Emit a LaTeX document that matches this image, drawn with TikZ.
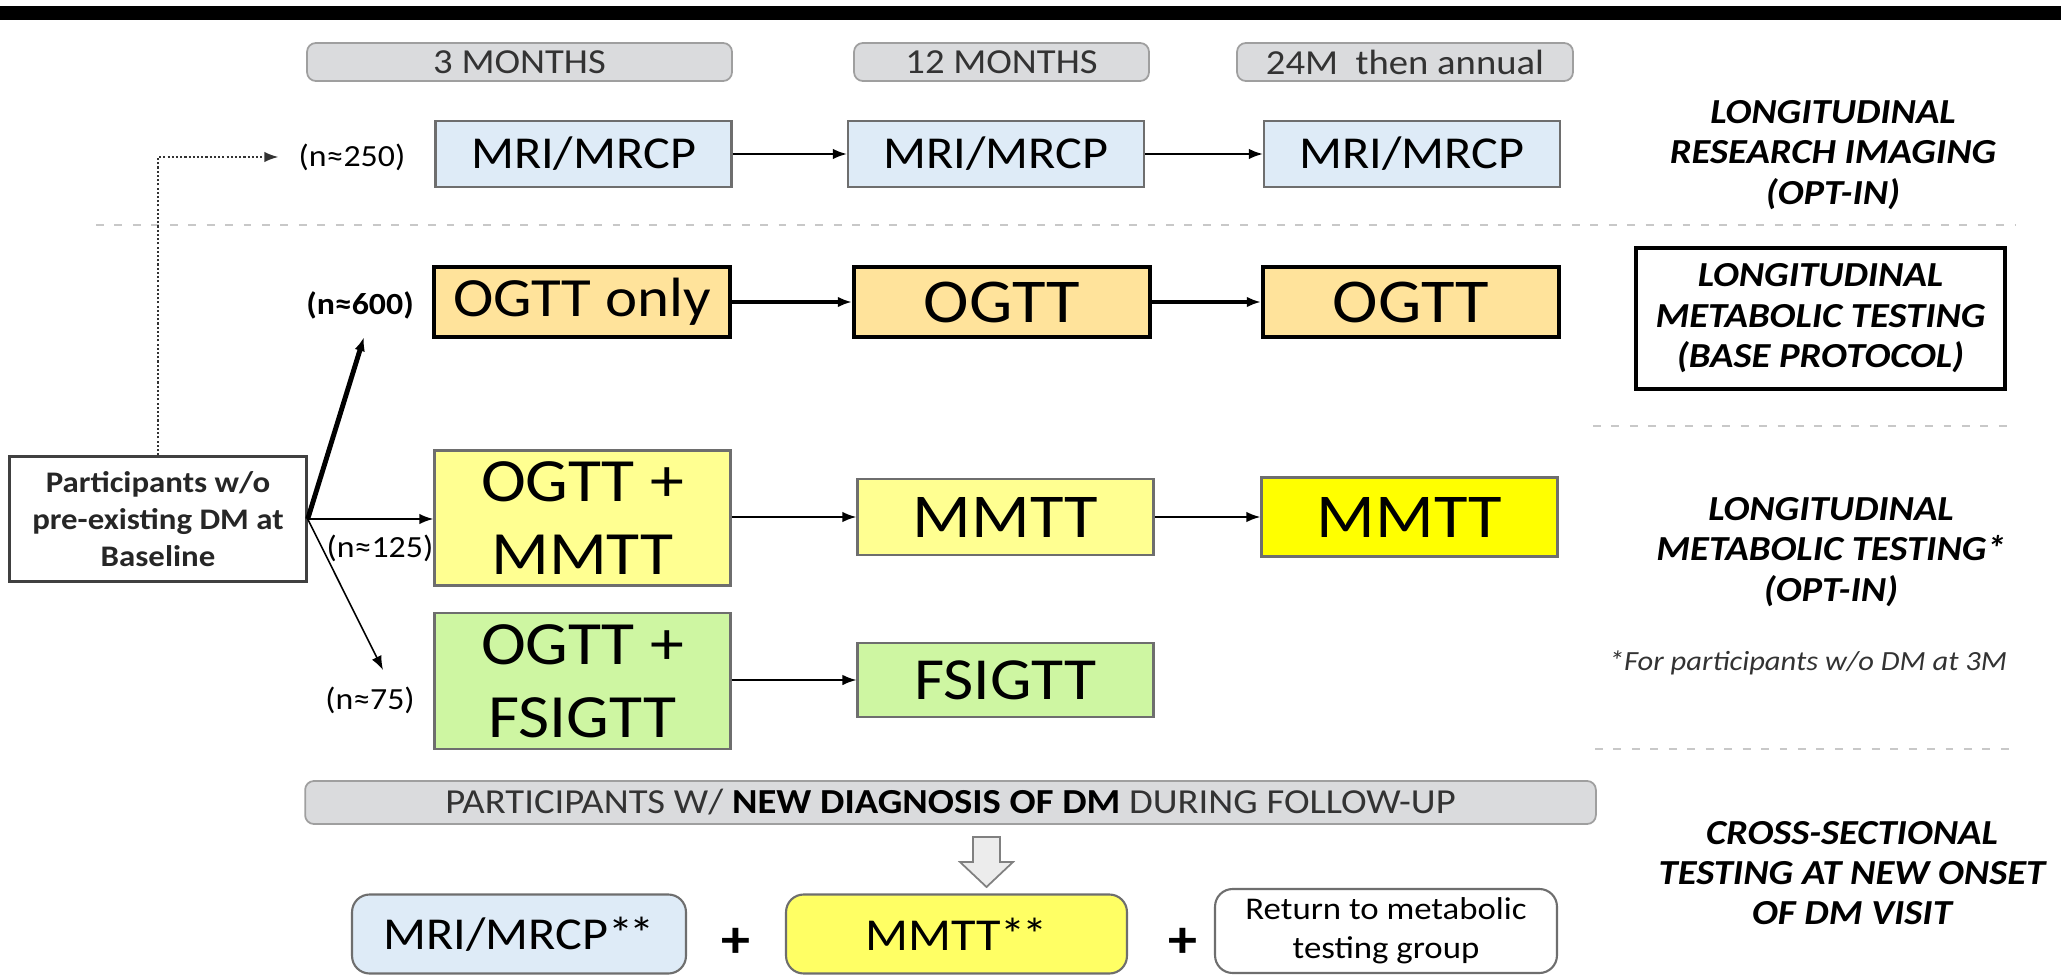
\documentclass[tikz,border=0pt]{standalone}
\usepackage{fontspec}
\setmainfont{Carlito}[FakeStretch=1.1]
\usetikzlibrary{arrows.meta, positioning, calc}
\definecolor{grisclaro}{RGB}{218,219,221}
\definecolor{azulclaro}{RGB}{222,235,247}
\definecolor{naranja}{RGB}{255,227,155}
\definecolor{amarillo}{RGB}{255,255,145}
\definecolor{amarillofuerte}{RGB}{255,255,0}
\definecolor{amarillomedio}{RGB}{255,255,100}
\definecolor{verdeclaro}{RGB}{206,246,162}
\definecolor{bordegris}{RGB}{110,110,110}
\definecolor{lineagris}{RGB}{200,200,200}
\tikzset{>={Latex[length=8pt,width=6pt]}}

\begin{document}
\begin{tikzpicture}[x=0.02cm, y=-0.02cm,
    etapa/.style={draw=gray!75, fill=grisclaro, rounded corners=5pt, line width=1pt, minimum height=0.76cm, inner sep=0pt, text=black!80, font=\fontsize{20}{24}\selectfont},
    caja/.style={inner sep=0pt, minimum width=5.92cm, align=center, font=\fontsize{35}{41.5}\selectfont},
    imagen/.style={caja, draw=bordegris, fill=azulclaro, line width=1.2pt, minimum height=1.32cm, font=\fontsize{26}{30}\selectfont},
    ogtt/.style={caja, draw=black, fill=naranja, line width=2.4pt, minimum height=1.4cm, font=\fontsize{35.5}{40}\selectfont},
    mmtt/.style={caja, draw=bordegris, fill=amarillo, line width=1.2pt},
    fsigtt/.style={caja, draw=bordegris, fill=verdeclaro, line width=1.2pt},
    cuenta/.style={inner sep=0pt, font=\fontsize{17.5}{20}\selectfont},
    grupo/.style={align=center, inner sep=0pt, font=\fontsize{20}{23}\bfseries\itshape\selectfont},
    separador/.style={lineagris, line width=1.4pt, dash pattern=on 4.5pt off 6pt},
    final/.style={rounded corners=10pt, line width=1.2pt, draw=bordegris, minimum height=1.58cm, inner sep=0pt, align=center, font=\fontsize{26}{30}\selectfont}]
    \useasboundingbox (0,0) rectangle (2061,976);
    \fill[black] (0,6) rectangle (2061,20);

    % separators
    \draw[separador] (96,225) -- (2015,225);
    \draw[separador] (1593,426) -- (2015,426);
    \draw[separador] (1595,749) -- (2015,749);

    % time points
    \node[etapa, minimum width=8.5cm] (h3m) at (519.5,62) {3 MONTHS};
    \node[etapa, minimum width=5.9cm] (h12m) at (1001.5,62) {12 MONTHS};
    \node[etapa, minimum width=6.72cm] (h24m) at (1405,62) {24M\ \ then annual};

    % research imaging
    \node[imagen] (mri1) at (583.5,154) {MRI/MRCP};
    \node[imagen] (mri2) at (996,154) {MRI/MRCP};
    \node[imagen] (mri3) at (1412,154) {MRI/MRCP};
    \draw[->, line width=1.2pt] (mri1) -- (mri2);
    \draw[->, line width=1.2pt] (mri2) -- (mri3);

    % base protocol
    \node[ogtt, font=\fontsize{31.5}{36}\selectfont] (ogtt1) at (582,302) {OGTT only};
    \node[ogtt] (ogtt2) at (1002,302) {OGTT};
    \node[ogtt] (ogtt3) at (1411,302) {OGTT};
    \draw[->, line width=2.3pt] (ogtt1) -- (ogtt2);
    \draw[->, line width=2.3pt] (ogtt2) -- (ogtt3);

    % opt-in metabolic testing
    \node[mmtt, minimum height=2.7cm] (mm1) at (582.5,518) {OGTT +\\MMTT};
    \node[mmtt, minimum height=1.52cm, font=\fontsize{35.5}{40}\selectfont] (mm2) at (1005.5,517) {MMTT};
    \node[mmtt, fill=amarillofuerte, minimum height=1.58cm, font=\fontsize{35.5}{40}\selectfont] (mm3) at (1409.5,517) {MMTT};
    \draw[->, line width=1.2pt] (mm1.east |- mm2) -- (mm2);
    \draw[->, line width=1.2pt] (mm2) -- (mm3);

    \node[fsigtt, minimum height=2.72cm] (fs1) at (582.5,681) {OGTT +\\FSIGTT};
    \node[fsigtt, minimum height=1.48cm, font=\fontsize{34}{40}\selectfont] (fs2) at (1005.5,680) {FSIGTT};
    \draw[->, line width=1pt] (fs1.east |- fs2) -- (fs2);

    % baseline
    \node[draw=black!75, line width=1.4pt, minimum width=5.94cm, minimum height=2.5cm, align=center, inner sep=0pt, text=black!85, font=\fontsize{17}{21}\bfseries\selectfont] (part) at (158,519) {Participants w/o\\pre-existing DM at\\Baseline};

    \node[cuenta] (n250) at (352,157) {(n≈250)};
    \node[cuenta, font=\fontsize{17.5}{20}\bfseries\selectfont] (n600) at (360,305) {(n≈600)};
    \node[cuenta] (n125) at (380,548) {(n≈125)};
    \node[cuenta] (n75) at (370,700) {(n≈75)};

    \coordinate (e600) at (364,337);
    \coordinate (e75) at (383,670);
    \draw[->, line width=2.8pt] (part.east) -- (e600);
    \draw[->, line width=1.2pt] (part.east) -- (mm1.west |- part.east);
    \draw[->, line width=0.9pt] (part.east) -- (e75);
    \draw[->, gray!40!black, line width=1pt, dash pattern=on 1.2pt off 1.2pt] (part.north) |- ([xshift=-0.4cm]n250.west);

    % right column
    \node[grupo] (g1) at (1833,155) {LONGITUDINAL\\RESEARCH IMAGING\\(OPT-IN)};
    \node[grupo, draw, line width=2.4pt, minimum width=7.38cm, minimum height=2.82cm] (g2) at (1820.5,318.5) {LONGITUDINAL\\METABOLIC TESTING\\(BASE PROTOCOL)};
    \node[grupo] (g3) at (1831,552) {LONGITUDINAL\\METABOLIC TESTING*\\(OPT-IN)};
    \node[inner sep=0pt, text=black!80, font=\fontsize{15.8}{18}\itshape\selectfont] (nota) at (1808,663) {*For participants w/o DM at 3M};
    \node[grupo] (g4) at (1852,873) {CROSS-SECTIONAL\\TESTING AT NEW ONSET\\OF DM VISIT};

    % new onset of DM
    \node[etapa, minimum width=25.82cm, minimum height=0.86cm] (nuevo) at (950.5,802.5) {PARTICIPANTS W/ \textbf{\color{black}NEW DIAGNOSIS OF DM} DURING FOLLOW-UP};
    \draw[fill=gray!15, draw=gray, line width=1pt] (973,837) -- (1000,837) -- (1000,862) -- (1013,862) -- (986.5,887) -- (960,862) -- (973,862) -- cycle;

    \node[final, fill=azulclaro, minimum width=6.68cm] (fmri) at (519,934) {MRI/MRCP*\kern-2pt*};
    \node[final, fill=amarillomedio, minimum width=6.82cm] (fmmtt) at (956.5,934) {MMTT*\kern-2pt*};
    \node[final, fill=white, minimum width=6.84cm, minimum height=1.68cm, font=\fontsize{18}{22}\selectfont] (fvuelta) at (1386,931) {Return to metabolic\\testing group};
    \node[inner sep=0pt, font=\fontsize{30}{30}\bfseries\selectfont] (mas1) at (736,943) {+};
    \node[inner sep=0pt, font=\fontsize{30}{30}\bfseries\selectfont] (mas2) at (1183,943) {+};
\end{tikzpicture}
\end{document}
